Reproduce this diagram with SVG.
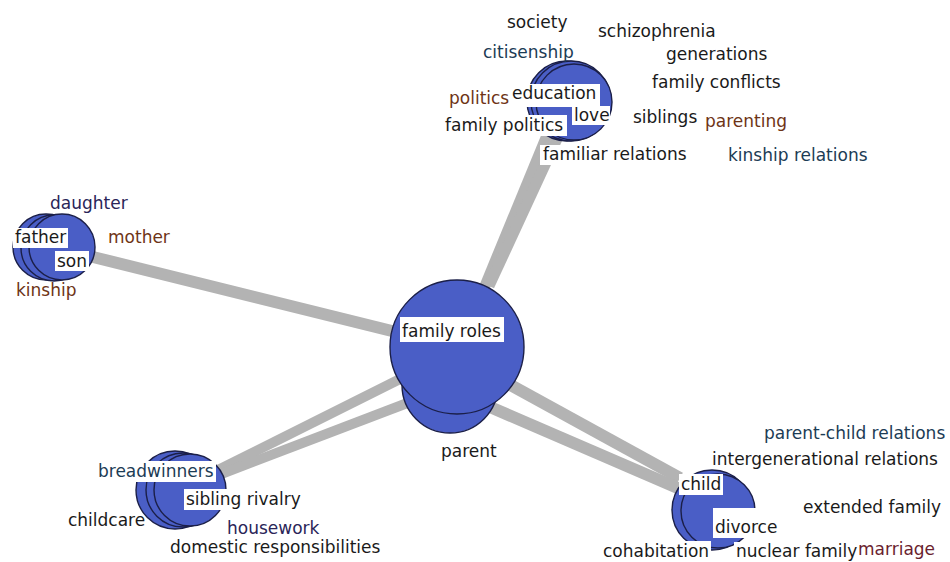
<svg xmlns="http://www.w3.org/2000/svg" width="950" height="562" viewBox="0 0 950 562">
  <style>
    .edge { stroke: #b3b3b3; stroke-width: 11; stroke-linecap: butt; fill: none; }
    .blob { fill: #4a5ec6; stroke: #1b1f48; stroke-width: 1.4; }
    .box { fill: #ffffff; }
    text { font-family: "DejaVu Sans", "Liberation Sans", sans-serif; font-size: 17px; fill: #1a1a1a; }
    .brown { fill: #6e3416; }
    .maroon { fill: #6a1e2e; }
    .teal { fill: #1c3c55; }
    .navy { fill: #2a2558; }
  </style>

  <rect width="950" height="562" fill="#ffffff"/>

  <!-- connectors between the clusters -->
  <g id="connectors">
    <line class="edge" x1="485" y1="286" x2="550" y2="128"/>
    <line class="edge" x1="489" y1="286" x2="562" y2="128"/>
    <line class="edge" x1="93" y1="257" x2="400" y2="333" style="stroke-width:12"/>
    <line class="edge" x1="216" y1="471" x2="402" y2="378" style="stroke-width:10"/>
    <line class="edge" x1="216" y1="476" x2="410" y2="402" style="stroke-width:10"/>
    <line class="edge" x1="505" y1="382" x2="680" y2="478" style="stroke-width:12"/>
    <line class="edge" x1="490" y1="407" x2="680" y2="489" style="stroke-width:12"/>
  </g>

  <!-- central cluster -->
  <g id="family-roles">
    <circle class="blob" cx="450" cy="385" r="48"/>
    <circle class="blob" cx="457" cy="347" r="67"/>
    <rect class="box" x="400" y="317" width="104" height="25"/>
    <text x="402" y="337">family roles</text>
    <text x="441" y="457">parent</text>
  </g>

  <!-- upper cluster -->
  <g id="education">
    <circle class="blob" cx="567" cy="101" r="40"/>
    <circle class="blob" cx="571" cy="101" r="40"/>
    <circle class="blob" cx="574" cy="102" r="38"/>
    <text x="507" y="28">society</text>
    <text x="598" y="37">schizophrenia</text>
    <text class="teal" x="483" y="58">citisenship</text>
    <text x="666" y="60">generations</text>
    <text x="652" y="88">family conflicts</text>
    <text class="brown" x="449" y="104">politics</text>
    <rect class="box" x="510" y="84" width="90" height="23"/>
    <text x="512" y="99">education</text>
    <rect class="box" x="572" y="106" width="38" height="19"/>
    <text x="574" y="121">love</text>
    <text x="633" y="123">siblings</text>
    <text class="brown" x="705" y="127">parenting</text>
    <rect class="box" x="443" y="115" width="124" height="21"/>
    <text x="445" y="131">family politics</text>
    <rect class="box" x="540" y="145" width="150" height="20"/>
    <text x="543" y="160">familiar relations</text>
    <text class="teal" x="728" y="161">kinship relations</text>
  </g>

  <!-- left cluster -->
  <g id="father">
    <circle class="blob" cx="46" cy="247" r="33"/>
    <circle class="blob" cx="54" cy="248" r="33"/>
    <circle class="blob" cx="62" cy="247" r="33"/>
    <text class="navy" x="50" y="209">daughter</text>
    <rect class="box" x="13" y="228" width="55" height="20"/>
    <text x="15" y="243">father</text>
    <text class="brown" x="108" y="243">mother</text>
    <rect class="box" x="55" y="251" width="34" height="20"/>
    <text x="57" y="267">son</text>
    <text class="brown" x="16" y="296">kinship</text>
  </g>

  <!-- lower left cluster -->
  <g id="breadwinners">
    <circle class="blob" cx="175" cy="490" r="39"/>
    <circle class="blob" cx="183" cy="490" r="37"/>
    <circle class="blob" cx="190" cy="490" r="36"/>
    <rect class="box" x="96" y="461" width="120" height="21"/>
    <text class="teal" x="98" y="477">breadwinners</text>
    <rect class="box" x="184" y="489" width="119" height="21"/>
    <text x="186" y="505">sibling rivalry</text>
    <text x="68" y="526">childcare</text>
    <text class="navy" x="227" y="534">housework</text>
    <text x="170" y="553">domestic responsibilities</text>
  </g>

  <!-- lower right cluster -->
  <g id="child">
    <circle class="blob" cx="712" cy="510" r="40"/>
    <circle class="blob" cx="718" cy="511" r="37"/>
    <text class="teal" x="764" y="439">parent-child relations</text>
    <text x="712" y="465">intergenerational relations</text>
    <rect class="box" x="679" y="474" width="44" height="21"/>
    <text x="681" y="490">child</text>
    <text x="803" y="513">extended family</text>
    <rect class="box" x="713" y="508" width="66" height="30"/>
    <text x="715" y="533">divorce</text>
    <rect class="box" x="601" y="541" width="110" height="21"/>
    <text x="603" y="557">cohabitation</text>
    <rect class="box" x="734" y="542" width="124" height="20"/>
    <text x="736" y="557">nuclear family</text>
    <text class="maroon" x="858" y="555">marriage</text>
  </g>
</svg>
